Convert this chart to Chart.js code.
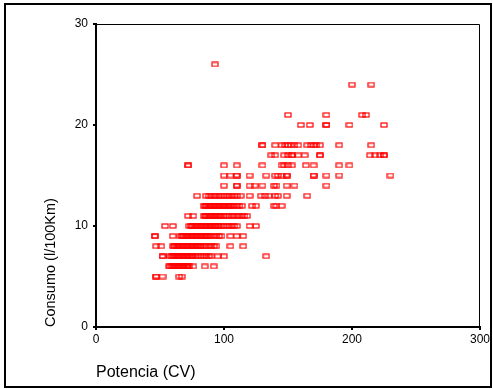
<!DOCTYPE html>
<html>
<head>
<meta charset="utf-8">
<script src="https://cdn.jsdelivr.net/npm/chart.js@4/dist/chart.umd.min.js"></script>
<style>
  html, body { margin: 0; padding: 0; background: #ffffff; }
  #wrap { width: 493px; height: 389px; position: relative; }
</style>
</head>
<body>
<div id="wrap"><canvas id="c" width="493" height="389"></canvas></div>
<script>
// Consumo (l/100Km) levels and the Potencia (CV) values observed at each level
const cv_c5  = [47, 47, 52, 65, 67];
const cv_c6  = [57, 58, 59, 60, 61, 62, 63, 64, 65, 66, 67, 68, 69, 70, 71, 72, 73, 76, 85, 92];
const cv_c7  = [52, 52, 58, 59, 60, 61, 62, 63, 64, 65, 66, 67, 68, 69, 70, 71, 72, 73, 74, 75, 76, 78, 80, 82, 84, 86, 88, 90, 95, 100, 133];
const cv_c8  = [47, 51, 60, 61, 62, 63, 64, 65, 66, 67, 68, 69, 70, 71, 72, 73, 74, 75, 76, 77, 78, 79, 80, 81, 82, 84, 86, 88, 90, 92, 94, 105, 115];
const cv_c9  = [46, 46, 60, 66, 67, 68, 69, 70, 71, 72, 73, 74, 75, 76, 77, 78, 79, 80, 81, 82, 83, 84, 85, 86, 87, 88, 90, 92, 94, 96, 98, 105, 110, 115];
const cv_c10 = [54, 60, 73, 74, 75, 76, 77, 78, 79, 80, 81, 82, 83, 84, 85, 86, 87, 88, 89, 90, 91, 92, 93, 94, 95, 96, 98, 100, 102, 104, 106, 108, 110, 120, 125];
const cv_c11 = [72, 76, 84, 85, 86, 87, 88, 89, 90, 91, 92, 93, 94, 95, 96, 97, 98, 100, 102, 104, 106, 108, 110, 112, 114, 116, 118];
const cv_c12 = [84, 85, 86, 87, 88, 89, 90, 91, 92, 93, 94, 95, 96, 97, 98, 99, 100, 101, 102, 103, 104, 105, 106, 108, 110, 112, 114, 122, 125, 139, 141, 145];
const cv_c13 = [79, 86, 88, 90, 92, 94, 96, 98, 100, 102, 104, 106, 108, 110, 113, 120, 129, 132, 135, 140, 142, 149, 165];
const cv_c14 = [100, 110, 110, 120, 124, 130, 139, 141, 149, 155, 180];
const cv_c15 = [100, 105, 110, 110, 120, 133, 140, 142, 145, 149, 149, 170, 170, 180, 190, 230];
const cv_c16 = [72, 72, 100, 110, 130, 145, 147, 150, 153, 164, 170, 190, 198];
const cv_c17 = [137, 140, 147, 150, 153, 153, 158, 163, 175, 175, 214, 218, 222, 225, 225];
const cv_c18 = [130, 130, 140, 145, 148, 150, 152, 155, 158, 165, 168, 170, 172, 175, 190, 215];
const cv_c20 = [160, 167, 180, 180, 198, 225];
const cv_c21 = [150, 180, 208, 211];
const cv_c24 = [200, 215];
const cv_c26 = [93];

const consumoLevels = [5, 6, 7, 8, 9, 10, 11, 12, 13, 14, 15, 16, 17, 18, 20, 21, 24, 26];
const potenciaByLevel = [cv_c5, cv_c6, cv_c7, cv_c8, cv_c9, cv_c10, cv_c11, cv_c12, cv_c13,
  cv_c14, cv_c15, cv_c16, cv_c17, cv_c18, cv_c20, cv_c21, cv_c24, cv_c26];

const xTicks = [0, 100, 200, 300];
const yTicks = [0, 10, 20, 30];
const xTitle = 'Potencia (CV)';
const yTitle = 'Consumo (l/100Km)';

const points = [];
consumoLevels.forEach((c, i) => {
  potenciaByLevel[i].forEach(p => points.push({ x: p, y: c }));
});

// hollow red rectangle marker
const marker = document.createElement('canvas');
marker.width = 8; marker.height = 6;
(function () {
  const m = marker.getContext('2d');
  m.strokeStyle = 'rgb(255,0,0)';
  m.lineWidth = 1.2;
  m.strokeRect(1, 1, 6, 4);
})();

const framePlugin = {
  id: 'frame',
  afterDraw(chart) {
    const ctx = chart.ctx;
    const a = chart.chartArea;
    ctx.save();
    ctx.strokeStyle = '#000';
    ctx.lineWidth = 1;
    ctx.beginPath();
    ctx.moveTo(a.left, a.top + 0.5);
    ctx.lineTo(a.right - 0.5, a.top + 0.5);
    ctx.lineTo(a.right - 0.5, a.bottom);
    ctx.stroke();
    ctx.lineWidth = 2;
    ctx.strokeRect(5, 4, 486, 383);
    ctx.restore();
  }
};

new Chart(document.getElementById('c'), {
  type: 'scatter',
  data: {
    datasets: [{
      data: points,
      pointStyle: marker,
      pointRadius: 3,
      pointHoverRadius: 3,
      backgroundColor: 'rgba(0,0,0,0)',
      borderColor: 'rgb(255,0,0)'
    }]
  },
  options: {
    responsive: false,
    animation: false,
    events: [],
    layout: { padding: { left: 42, right: 13, top: 24, bottom: 7 } },
    plugins: { legend: { display: false }, tooltip: { enabled: false } },
    scales: {
      x: {
        type: 'linear',
        min: 0, max: 300,
        afterFit(s) { s.height = 55; },
        afterBuildTicks(s) { s.ticks = xTicks.map(v => ({ value: v })); },
        border: { display: true, color: '#000', width: 2 },
        grid: { display: true, drawOnChartArea: false, drawTicks: true, tickLength: 3, color: '#000', lineWidth: 2 },
        ticks: { color: '#000', padding: 2, maxRotation: 0, font: { family: 'Liberation Sans, Arial, sans-serif', size: 12 } },
        title: { display: true, text: xTitle, align: 'start', color: '#000', padding: { top: 0, bottom: 0 },
          font: { family: 'Liberation Sans, Arial, sans-serif', size: 16 } }
      },
      y: {
        type: 'linear',
        min: 0, max: 30,
        afterFit(s) { s.width = 54; },
        afterBuildTicks(s) { s.ticks = yTicks.map(v => ({ value: v })); },
        border: { display: true, color: '#000', width: 2 },
        grid: { display: true, drawOnChartArea: false, drawTicks: true, tickLength: 3, color: '#000', lineWidth: 2 },
        ticks: { color: '#000', padding: 5, font: { family: 'Liberation Sans, Arial, sans-serif', size: 12 } },
        title: { display: true, text: yTitle, align: 'start', color: '#000', padding: { top: 0, bottom: 0 },
          font: { family: 'Liberation Sans, Arial, sans-serif', size: 14.5 } }
      }
    }
  },
  plugins: [framePlugin]
});
</script>
</body>
</html>
